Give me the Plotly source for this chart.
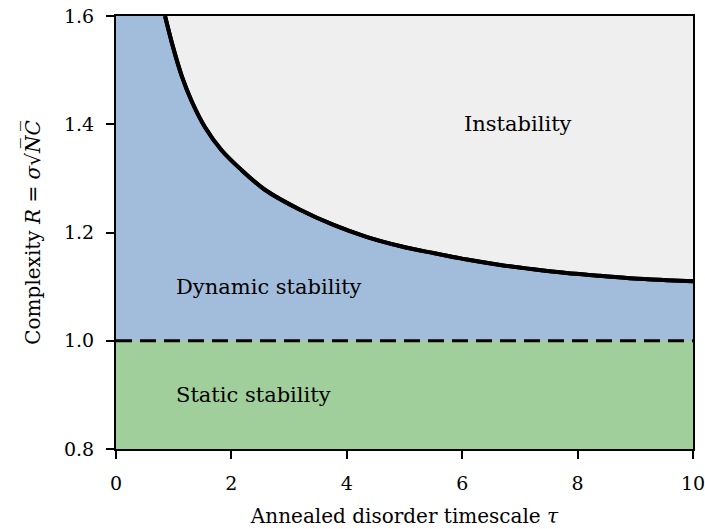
import plotly.graph_objects as go

# Stability boundary
tau = [0.85, 0.99, 1.14, 1.31, 1.54, 1.83, 2.18, 2.58, 3.19, 3.77, 4.34, 4.92, 5.50,
       6.08, 6.66, 7.23, 7.81, 8.39, 8.97, 9.54, 10.0]
R_crit = [1.600, 1.542, 1.489, 1.443, 1.395, 1.352, 1.315, 1.279, 1.242, 1.214, 1.192,
          1.175, 1.162, 1.150, 1.140, 1.132, 1.125, 1.120, 1.115, 1.112, 1.110]

x_range = [0, 10]
y_range = [0.8, 1.6]
static_level = [1.0, 1.0]
x_ticks = [0, 2, 4, 6, 8, 10]
y_ticks = [0.8, 1.0, 1.2, 1.4, 1.6]

labels = ["Instability", "Dynamic stability", "Static stability"]
label_x = [6.0, 1.0, 1.0]
label_y = [1.4, 1.1, 0.9]

blue = "#a2bddc"
green = "#a1cf9b"
grey = "#efefef"
font_family = "DejaVu Serif"

fig = go.Figure()

# green static region (fill down from R=1)
fig.add_trace(go.Scatter(x=x_range, y=static_level, mode="lines", line=dict(width=0),
                         fill="tozeroy", fillcolor=green, hoverinfo="skip"))
# stability boundary curve
fig.add_trace(go.Scatter(x=tau, y=R_crit, mode="lines",
                         line=dict(color="black", width=4, shape="spline", smoothing=1.0),
                         hoverinfo="skip"))
# grey instability region above curve
fig.add_trace(go.Scatter(x=[tau[0], x_range[1]], y=[y_range[1], y_range[1]], mode="lines", line=dict(width=0),
                         fill="tonexty", fillcolor=grey, hoverinfo="skip"))
# dashed line at R = 1
fig.add_trace(go.Scatter(x=x_range, y=static_level, mode="lines",
                         line=dict(color="black", width=3, dash="16px,8px"), hoverinfo="skip"))
# curve again on top
fig.add_trace(go.Scatter(x=tau, y=R_crit, mode="lines",
                         line=dict(color="black", width=4, shape="spline", smoothing=1.0),
                         hoverinfo="skip"))

for t, xx, yy in zip(labels, label_x, label_y):
    fig.add_annotation(x=xx, y=yy, text=t, showarrow=False, xanchor="left", yanchor="middle",
                       font=dict(family=font_family, size=21, color="black"))

axis_common = dict(showline=True, linecolor="black", linewidth=2, mirror=True,
                   ticks="outside", ticklen=8, tickwidth=2, tickcolor="black",
                   showgrid=False, zeroline=False, automargin=False,
                   ticklabeloverflow="allow", ticklabelstandoff=8,
                   tickfont=dict(family=font_family, size=19, color="black"))

fig.update_xaxes(range=x_range, tickvals=x_ticks, ticktext=[str(v) for v in x_ticks],
                 title=dict(text="Annealed disorder timescale <i>τ</i>",
                            font=dict(family=font_family, size=20, color="black"), standoff=16),
                 **axis_common)
fig.update_yaxes(range=y_range, tickvals=y_ticks, ticktext=[f"{v:.1f}" for v in y_ticks],
                 title=dict(text="Complexity <i>R</i> = <i>σ</i>√<i>N̅C̅</i>",
                            font=dict(family=font_family, size=20, color="black"), standoff=18),
                 **axis_common)

fig.update_layout(width=705, height=529, margin=dict(l=116, r=12, t=16, b=80),
                  plot_bgcolor=blue, paper_bgcolor="white", showlegend=False)

fig.write_html("out.html")
